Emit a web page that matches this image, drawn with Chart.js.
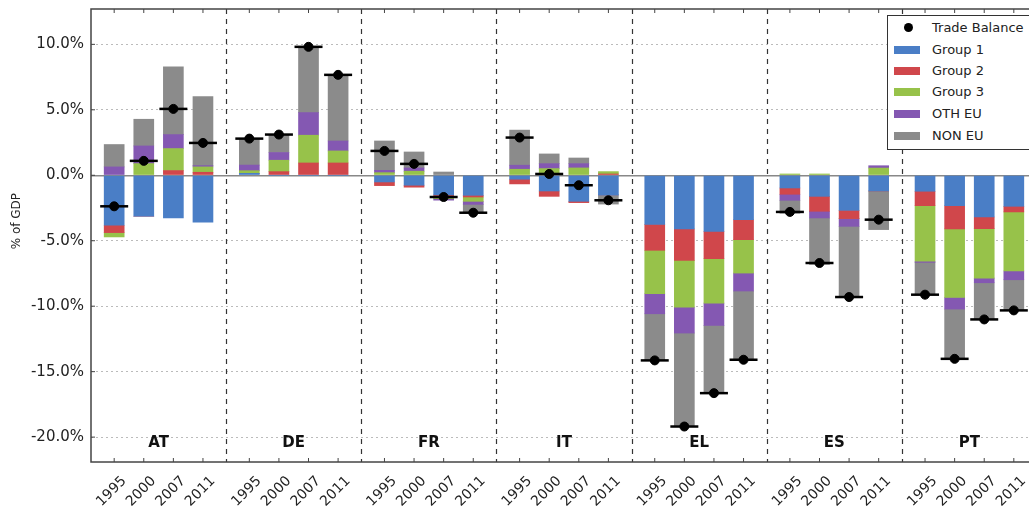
<!DOCTYPE html>
<html>
<head>
<meta charset="utf-8">
<script src="https://cdn.jsdelivr.net/npm/chart.js@4.4.0/dist/chart.umd.min.js"></script>
<style>
  html, body { margin: 0; padding: 0; background: #fff; overflow: hidden; }
  #wrap { position: relative; width: 1029px; height: 506px; overflow: hidden; }
  #chart { display: block; }
  #legend { position: absolute; left: 887px; top: 15px; width: 160px; height: 133px;
            border: 1px solid #333; background: #fff; font: 13px "DejaVu Sans"; color: #222; }
  .row { position: absolute; left: 0; height: 20px; line-height: 20px; width: 160px; }
  .sw { position: absolute; left: 6px; top: 6px; width: 26px; height: 8px; }
  .dot { position: absolute; left: 16px; top: 5px; width: 9px; height: 9px; border-radius: 50%; background: #000; }
  .txt { position: absolute; left: 44px; top: 0; white-space: nowrap; }
</style>
</head>
<body>
<div id="wrap">
  <canvas id="chart" width="1045" height="506"></canvas>
  <div id="legend"></div>
</div>
<script>
const countries = ["AT", "DE", "FR", "IT", "EL", "ES", "PT"];
const years = ["1995", "2000", "2007", "2011"];

// values in % of GDP, ordered AT 1995..2011, DE 1995..2011, ...
const group1 = [-3.82, -3.13, -3.26, -3.59,  0.15, 0, 0, 0,  -0.51, -0.76, -1.50, -1.53,
                -0.30, -1.20, -1.99, -1.50,  -3.75, -4.10, -4.28, -3.39,  -0.97, -1.61, -2.68, -1.20,
                -1.22, -2.32, -3.19, -2.37];
const group2 = [-0.56, 0, 0.36, 0.23,  0, 0.28, 0.94, 0.94,  -0.28, -0.15, -0.15, -0.13,
                -0.36, -0.41, -0.10, 0.10,  -1.98, -2.40, -2.09, -1.53,  -0.48, -1.14, -0.63, 0,
                -1.10, -1.78, -0.89, -0.43];
const group3 = [-0.33, 0.89, 1.68, 0.41,  0.20, 0.87, 2.12, 0.92,  0.20, 0.31, -0.13, -0.33,
                0.46, 0.51, 0.56, 0.18,  -3.32, -3.57, -3.39, -2.55,  0.10, 0.10, 0, 0.55,
                -4.25, -5.23, -3.77, -4.51];
const othEU = [0.64, 1.35, 1.07, 0.10,  0.43, 0.59, 1.73, 0.76,  0.18, 0.25, -0.12, -0.23,
               0.31, 0.38, 0.33, 0,  -1.53, -1.98, -1.71, -1.37,  -0.46, -0.51, -0.59, 0.18,
               -0.08, -0.89, -0.36, -0.67];
const nonEU = [1.71, 2.04, 5.17, 5.27,  2.01, 1.38, 5.02, 5.05,  2.24, 1.22, 0.25, -0.64,
               2.68, 0.74, 0.43, -0.70,  -3.56, -7.14, -5.17, -5.25,  -0.99, -3.54, -5.40, -2.95,
               -2.47, -3.80, -2.80, -2.34];
const tradeBalance = [-2.37, 1.10, 5.07, 2.47,  2.80, 3.11, 9.81, 7.67,  1.86, 0.87, -1.66, -2.86,
                      2.88, 0.10, -0.76, -1.91,  -14.14, -19.19, -16.64, -14.09,  -2.80, -6.70, -9.30, -3.39,
                      -9.12, -14.02, -11.01, -10.32];
const yTicks = [-20, -15, -10, -5, 0, 5, 10];

const series = [
  { label: "Group 1", values: group1, color: "#4a7ec6" },
  { label: "Group 2", values: group2, color: "#d0474b" },
  { label: "Group 3", values: group3, color: "#97c24a" },
  { label: "OTH EU", values: othEU, color: "#8458b2" },
  { label: "NON EU", values: nonEU, color: "#8b8b8b" },
];

// bar centres: one unit per country, four bars spread inside it
const barPos = [];
countries.forEach((c, g) => years.forEach((y, j) => barPos.push(g + 0.5 + (j - 1.5) * 0.219)));
const toPoints = arr => arr.map((v, i) => ({ x: barPos[i], y: v }));
const tickVal = c => (c && c.tick ? c.tick.value : null);

// legend box, drawn in the top-right corner of the plot like the original
const legendItems = [{ label: "Trade Balance", dot: true }, ...series];
const legendEl = document.getElementById("legend");
const rowCentres = [12, 34, 55, 76, 98, 120];
legendItems.forEach((it, i) => {
  const row = document.createElement("div");
  row.className = "row";
  row.style.top = (rowCentres[i] - 10) + "px";
  const mark = document.createElement("div");
  if (it.dot) { mark.className = "dot"; }
  else { mark.className = "sw"; mark.style.background = it.color; }
  const txt = document.createElement("div");
  txt.className = "txt";
  txt.textContent = it.label;
  row.appendChild(mark);
  row.appendChild(txt);
  legendEl.appendChild(row);
});

// country separators, sits under the bars
const separatorPlugin = {
  id: "separators",
  beforeDatasetsDraw(chart) {
    const { ctx, chartArea: a, scales } = chart;
    ctx.save();
    ctx.strokeStyle = "#333";
    ctx.lineWidth = 1.2;
    ctx.setLineDash([5, 5]);
    ctx.beginPath();
    for (let g = 1; g < countries.length; g++) {
      const px = Math.round(scales.x.getPixelForValue(g)) + 0.5;
      ctx.moveTo(px, a.top);
      ctx.lineTo(px, a.bottom);
    }
    ctx.stroke();
    ctx.restore();
  }
};

const framePlugin = {
  id: "frame",
  afterDraw(chart) {
    const { ctx, chartArea: a, scales } = chart;
    ctx.save();
    ctx.strokeStyle = "#444";
    ctx.lineWidth = 1;
    ctx.beginPath();
    barPos.forEach(v => {
      const px = scales.x.getPixelForValue(v);
      ctx.moveTo(px, a.bottom); ctx.lineTo(px, a.bottom - 4);
      ctx.moveTo(px, a.top); ctx.lineTo(px, a.top + 4);
    });
    yTicks.forEach(v => {
      const py = scales.y.getPixelForValue(v);
      ctx.moveTo(a.left, py); ctx.lineTo(a.left + 4, py);
      ctx.moveTo(a.right, py); ctx.lineTo(a.right - 4, py);
    });
    ctx.stroke();
    ctx.font = 'bold 15px "DejaVu Sans"';
    ctx.fillStyle = "#111";
    ctx.textAlign = "center";
    ctx.textBaseline = "middle";
    countries.forEach((c, g) => {
      ctx.fillText(c, scales.x.getPixelForValue(g + 0.5), scales.y.getPixelForValue(-20.45));
    });
    ctx.lineWidth = 1.5;
    ctx.strokeRect(a.left, a.top, a.width, a.height);
    // y axis title
    ctx.translate(17, scales.y.getPixelForValue(-3.5));
    ctx.rotate(-Math.PI / 2);
    ctx.font = '12px "DejaVu Sans"';
    ctx.fillStyle = "#222";
    ctx.fillText("% of GDP", 0, 0);
    ctx.restore();
  }
};

new Chart(document.getElementById("chart"), {
  type: "bar",
  data: {
    datasets: [
      ...series.map(s => ({
        label: s.label,
        data: toPoints(s.values),
        backgroundColor: s.color,
        borderWidth: 0,
        barThickness: 20,
        order: 2,
      })),
      {
        type: "line",
        label: "tb-line",
        data: toPoints(tradeBalance),
        showLine: false,
        pointStyle: "line",
        pointRadius: 14,
        pointBorderWidth: 2.5,
        pointBorderColor: "#000",
        stack: "tb1",
        order: 1,
      },
      {
        type: "line",
        label: "Trade Balance",
        data: toPoints(tradeBalance),
        showLine: false,
        pointStyle: "circle",
        pointRadius: 4.5,
        pointBackgroundColor: "#000",
        pointBorderColor: "#000",
        pointBorderWidth: 1,
        stack: "tb2",
        order: 0,
      },
    ],
  },
  options: {
    responsive: false,
    animation: false,
    devicePixelRatio: 1,
    events: [],
    layout: { autoPadding: false, padding: { top: 9, right: 8, left: 0, bottom: 0 } },
    plugins: { legend: { display: false }, tooltip: { enabled: false } },
    scales: {
      x: {
        type: "linear",
        min: 0,
        max: 7,
        offset: false,
        stacked: true,
        afterBuildTicks: s => { s.ticks = barPos.map(v => ({ value: v })); },
        afterFit: s => { s.height = 44; s.paddingLeft = 0; s.paddingRight = 0; },
        grid: { display: false },
        border: { display: false },
        ticks: {
          autoSkip: false,
          minRotation: 45,
          maxRotation: 45,
          labelOffset: 10,
          padding: 3,
          color: "#222",
          font: { family: "DejaVu Sans", size: 14 },
          callback: (v, i) => years[i % years.length],
        },
      },
      y: {
        stacked: true,
        min: -21.9,
        max: 12.7,
        afterFit: s => { s.width = 91; },
        afterBuildTicks: s => { s.ticks = yTicks.map(v => ({ value: v })); },
        ticks: {
          padding: 0,
          color: "#222",
          font: { family: "DejaVu Sans", size: 15, lineHeight: 0.1 },
          callback: v => v.toFixed(1) + "%",
        },
        grid: {
          drawTicks: true,
          tickLength: 7,
          tickColor: "rgba(0,0,0,0)",
          color: c => tickVal(c) === 0 ? "#888" : "#bbb",
          lineWidth: c => tickVal(c) === 0 ? 1.5 : 1,
        },
        border: { display: false, dash: c => tickVal(c) === 0 ? [] : [2, 3] },
      },
    },
  },
  plugins: [separatorPlugin, framePlugin],
});
</script>
</body>
</html>
